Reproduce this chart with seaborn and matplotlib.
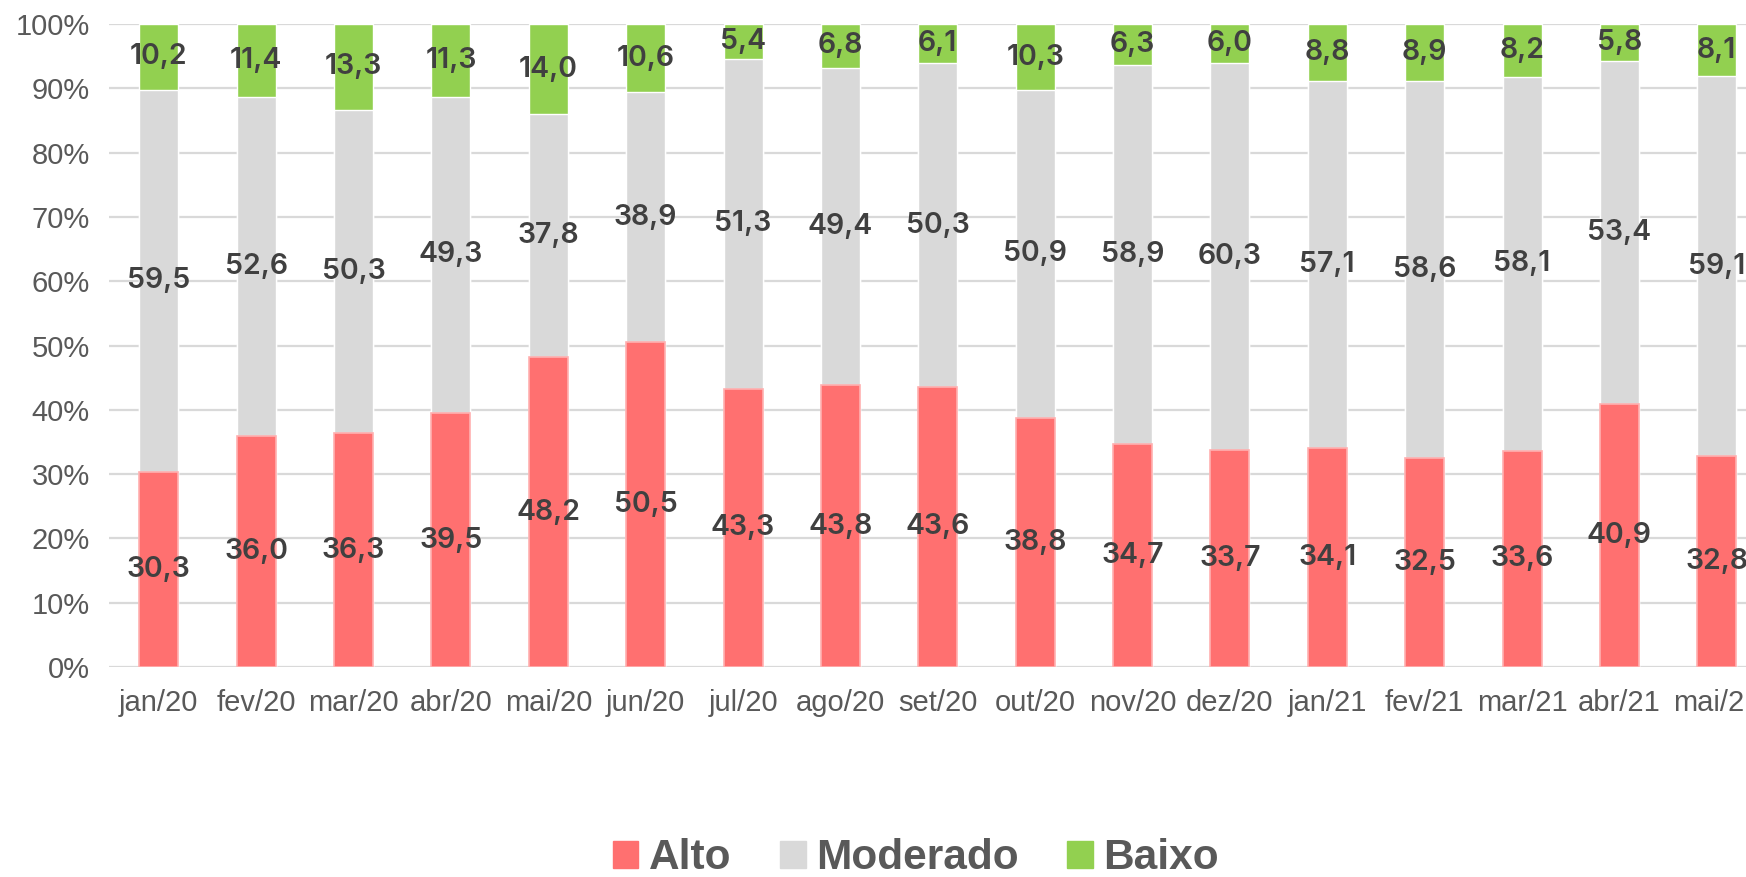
import numpy as np
import pandas as pd
import seaborn as sns
import matplotlib.pyplot as plt

months = ["jan/20", "fev/20", "mar/20", "abr/20", "mai/20", "jun/20", "jul/20",
          "ago/20", "set/20", "out/20", "nov/20", "dez/20", "jan/21", "fev/21",
          "mar/21", "abr/21", "mai/21"]
alto = [30.3, 36.0, 36.3, 39.5, 48.2, 50.5, 43.3, 43.8, 43.6, 38.8, 34.7, 33.7,
        34.1, 32.5, 33.6, 40.9, 32.8]
moderado = [59.5, 52.6, 50.3, 49.3, 37.8, 38.9, 51.3, 49.4, 50.3, 50.9, 58.9, 60.3,
            57.1, 58.6, 58.1, 53.4, 59.1]
baixo = [10.2, 11.4, 13.3, 11.3, 14.0, 10.6, 5.4, 6.8, 6.1, 10.3, 6.3, 6.0,
         8.8, 8.9, 8.2, 5.8, 8.1]

c_alto = "#FF7070"
c_mod = "#D9D9D9"
c_baixo = "#92D050"

# 100% stacked: normalise each month
a = np.array(alto)
m = np.array(moderado)
b = np.array(baixo)
tot = a + m + b
pa = a / tot * 100
pm = m / tot * 100
pb = b / tot * 100

df = pd.DataFrame({"mes": months,
                   "top": pa + pm + pb,
                   "mid": pa + pm,
                   "low": pa})

sns.set_style("white")

fig = plt.figure(figsize=(17.46, 8.77), dpi=100)
ax = fig.add_axes([0.0625, 0.2395, 0.9375, 0.733])

ax.set_axisbelow(True)
ax.yaxis.grid(True, color="#D9D9D9", lw=1.6)

# draw layers from the top down so each covers the one behind
sns.barplot(data=df, x="mes", y="top", color=c_baixo, saturation=1, width=0.4, ax=ax)
sns.barplot(data=df, x="mes", y="mid", color=c_mod, saturation=1, width=0.4, ax=ax)
sns.barplot(data=df, x="mes", y="low", color=c_alto, saturation=1, width=0.4,
            edgecolor="#FFB0B0", linewidth=1.2, ax=ax)

# value labels
lab_font = dict(family="Inter", fontsize=20.5, fontweight="semibold", color="#404040",
                ha="center", va="center")
for i in range(len(months)):
    ax.text(i, pa[i] / 2, f"{alto[i]:.1f}".replace(".", ","), **lab_font)
    ax.text(i, pa[i] + pm[i] / 2, f"{moderado[i]:.1f}".replace(".", ","), **lab_font)
    ax.text(i, pa[i] + pm[i] + pb[i] / 2, f"{baixo[i]:.1f}".replace(".", ","), **lab_font)

ax.set_ylim(0, 100)
ax.set_xlim(-0.51, 16.3)
ax.set_yticks(range(0, 101, 10))
ax.set_yticklabels([f"{v}%" for v in range(0, 101, 10)])
ax.set_xlabel("")
ax.set_ylabel("")
for s in ax.spines.values():
    s.set_visible(False)
ax.tick_params(axis="both", length=0, labelcolor="#595959")
ax.tick_params(axis="y", labelsize=21, pad=14)
ax.tick_params(axis="x", labelsize=21, pad=16)
for t in ax.get_xticklabels() + ax.get_yticklabels():
    t.set_fontfamily("Liberation Sans")

handles = [plt.Rectangle((0, 0), 1, 1, color=c) for c in (c_alto, c_mod, c_baixo)]
fig.legend(handles, ["Alto", "Moderado", "Baixo"], loc="center",
           bbox_to_anchor=(916 / 1746, 1 - 858 / 877), ncol=3, frameon=False,
           prop={"family": "Liberation Sans", "weight": "bold", "size": 30.5},
           labelcolor="#595959", handlelength=0.6, handleheight=0.6,
           handletextpad=0.25, columnspacing=1.15, borderpad=0.1)

fig.savefig("out.png", dpi=100)
